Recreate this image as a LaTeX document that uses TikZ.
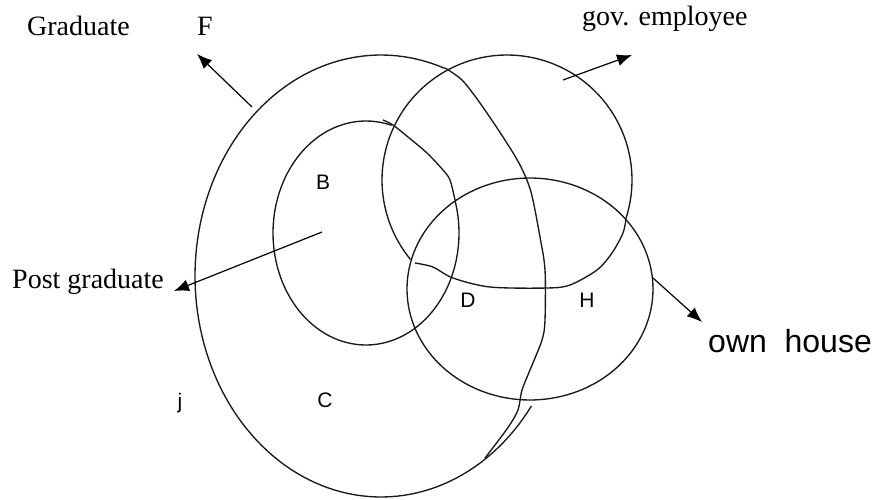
\documentclass[tikz,border=0pt]{standalone}
\usepackage{fontspec}
\setmainfont{Liberation Serif}
\setsansfont{Liberation Sans}
\usetikzlibrary{arrows.meta}

\tikzset{
  setline/.style={line width=1.35pt, black!90, line join=round},
  pointer/.style={line width=1.2pt, black, -{Latex[length=15pt,width=12pt]}},
  setname/.style={font=\fontsize{28}{30}\selectfont, inner sep=0pt, anchor=base west},
  regionname/.style={font=\sffamily\fontsize{21}{23}\selectfont, inner sep=0pt},
}

\begin{document}
\begin{tikzpicture}[x=1pt,y=-1pt]
\useasboundingbox (0,0) rectangle (878,499);
% graduate set (left part smooth, right part redrawn by hand)
\draw[setline] plot[domain=70:324,samples=120] ({381+186*cos(\x)},{276-221*sin(\x)});
\draw[setline] plot[smooth,tension=0.5] coordinates {(445,68) (462,80) (480,103) (503,137) (520,165) (531,192) (540,237) (545,270) (545,320) (542,340) (530,370) (522,390) (518,410) (509,426) (495,445) (485,458)};
% post graduate set
\draw[setline] plot[domain=74:377,samples=120] ({366+93*cos(\x)},{233-112*sin(\x)});
\draw[setline] plot[smooth,tension=0.5] coordinates {(383,120) (393,125) (408,137) (427,153) (443,170) (450,180) (455,200)};
% gov. employee set
\draw[setline] plot[domain=-18.4:219.5,samples=120] ({507+125*cos(\x)},{180-125*sin(\x)});
\draw[setline] plot[smooth,tension=0.5] coordinates {(626,219) (623,233) (612,253) (597,270) (570,285) (547,288) (490,287) (453,278) (433,267) (415,263)};
% own house set
\draw[setline] plot[domain=0:360,samples=140] ({530+123*cos(\x)},{289-111*sin(\x)});

% names of the sets
\node[setname] (graduate) at (27,35) {Graduate};
\node[setname] (fregion) at (197,35) {F};
\node[setname] (govemp) at (582,25) {gov. employee};
\node[setname] (postgrad) at (12,288) {Post graduate};
\node[setname, font=\sffamily\fontsize{32}{34}\selectfont] (ownhouse) at (708,352) {own\ \ house};

% regions
\node[regionname] (bregion) at (323,182) {B};
\node[regionname] (dregion) at (468,300) {D};
\node[regionname] (hregion) at (587,300) {H};
\node[regionname] (cregion) at (325,400) {C};
\node[regionname, anchor=base] (jregion) at (180,408) {j};

% pointers
\coordinate (gradtail) at (252,107);
\coordinate (gradtip) at (197,54);
\coordinate (govtail) at (563,80);
\coordinate (govtip) at (632,55);
\coordinate (posttail) at (322,232);
\coordinate (posttip) at (174,291);
\coordinate (owntail) at (653,278);
\coordinate (owntip) at (702,322);
\draw[pointer] (gradtail) -- (gradtip);
\draw[pointer] (govtail) -- (govtip);
\draw[pointer] (posttail) -- (posttip);
\draw[pointer] (owntail) -- (owntip);
\end{tikzpicture}
\end{document}
